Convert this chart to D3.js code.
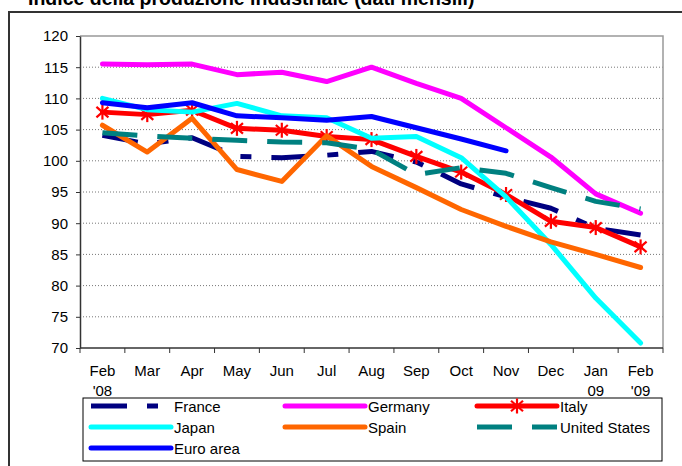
<!DOCTYPE html>
<html>
<head>
<meta charset="utf-8">
<script src="https://cdn.jsdelivr.net/npm/d3@7.9.0/dist/d3.min.js"></script>
<style>
  body { margin: 0; background: #fff; }
  svg text { font-family: "Liberation Sans", Arial, sans-serif; fill: #000; }
</style>
</head>
<body>
<div id="chart"></div>
<script>
// months on the x axis (second line of label after "|")
const months = ["Feb|'08", "Mar", "Apr", "May", "Jun", "Jul", "Aug", "Sep", "Oct", "Nov", "Dec", "Jan|09", "Feb|'09"];
const yTicks = [70, 75, 80, 85, 90, 95, 100, 105, 110, 115, 120];

const france  = [104.1, 102.7, 103.7, 100.7, 100.5, 100.9, 101.5, 99.8, 96.3, 94.2, 92.4, 89.2, 88.1];
const germany = [115.5, 115.4, 115.5, 113.8, 114.2, 112.7, 115.0, 112.4, 110.0, 105.3, 100.6, 94.7, 91.6];
const italy   = [107.8, 107.4, 108.1, 105.2, 104.9, 103.9, 103.4, 100.7, 98.2, 94.6, 90.3, 89.3, 86.2];
const japan   = [110.0, 108.2, 107.8, 109.2, 107.2, 106.9, 103.6, 103.9, 100.5, 94.2, 86.6, 78.0, 70.8];
const spain   = [105.7, 101.4, 106.8, 98.6, 96.7, 104.0, 99.1, 95.7, 92.2, 89.5, 87.0, 85.0, 82.9];
const usa     = [104.5, 104.0, 103.6, 103.3, 103.0, 102.9, 101.8, 97.8, 98.9, 98.0, 95.7, 93.5, 92.3];
const euroArea = [109.3, 108.5, 109.3, 107.2, 106.9, 106.5, 107.1, 105.3, 103.5, 101.6];

const series = [
    { name: "France", values: france, color: "#000080", dash: "36,20,11,20", cap: "butt" },
    { name: "Germany", values: germany, color: "#ff00ff", dash: null, cap: "round" },
    { name: "Italy", values: italy, color: "#ff0000", dash: null, cap: "round", marker: true },
    { name: "Japan", values: japan, color: "#00ffff", dash: null, cap: "round" },
    { name: "Spain", values: spain, color: "#ff6600", dash: null, cap: "round" },
    { name: "United States", values: usa, color: "#008080", dash: "35,20", cap: "butt" },
    { name: "Euro area", values: euroArea, color: "#0000ff", dash: null, cap: "round" }
];

const width = 682, height = 466;
const plot = { left: 80, right: 663, top: 36, bottom: 348 };

const svg = d3.select("#chart")
    .append("svg")
    .attr("width", width)
    .attr("height", height);

// outer frame and title (title is clipped by the top of the picture)
svg.append("rect")
    .attr("x", 9)
    .attr("y", 12)
    .attr("width", 700)
    .attr("height", 500)
    .attr("fill", "none")
    .attr("stroke", "#333")
    .attr("stroke-width", 2);

svg.append("text")
    .attr("x", 28)
    .attr("y", 5)
    .attr("font-size", 19.5)
    .attr("font-weight", "bold")
    .text("Indice della produzione industriale (dati mensili)");

const xBand = d3.scaleBand()
    .domain(months)
    .range([plot.left, plot.right]);
const x = (i) => xBand(months[i]) + xBand.bandwidth() / 2;

const y = d3.scaleLinear()
    .domain([70, 120])
    .range([plot.bottom, plot.top]);

// gridlines
svg.append("g")
    .selectAll("line")
    .data(yTicks.filter((d) => d > 70 && d < 120))
    .join("line")
    .attr("x1", plot.left)
    .attr("x2", plot.right)
    .attr("y1", (d) => y(d))
    .attr("y2", (d) => y(d))
    .attr("stroke", "#777")
    .attr("stroke-width", 1)
    .attr("stroke-dasharray", "1,2");

// plot border top + right
svg.append("path")
    .attr("d", `M${plot.left},${y(120)}H${plot.right}V${plot.bottom}`)
    .attr("fill", "none")
    .attr("stroke", "#999")
    .attr("stroke-width", 1.5);

// y axis
const yAxis = svg.append("g")
    .attr("transform", `translate(${plot.left},0)`)
    .call(d3.axisLeft(y).tickValues(yTicks).tickSize(4).tickSizeOuter(0).tickPadding(8));
yAxis.select(".domain").attr("stroke", "#333").attr("stroke-width", 1.5);
yAxis.selectAll(".tick line").attr("stroke", "#333");
yAxis.selectAll(".tick text")
    .attr("font-size", 15)
    .attr("font-family", "Liberation Sans, Arial, sans-serif");

// x axis
svg.append("line")
    .attr("x1", plot.left)
    .attr("x2", plot.right)
    .attr("y1", plot.bottom)
    .attr("y2", plot.bottom)
    .attr("stroke", "#333")
    .attr("stroke-width", 1.5);

const bounds = months.map((m) => xBand(m)).concat([plot.right]);
svg.append("g")
    .selectAll("line")
    .data(bounds)
    .join("line")
    .attr("x1", (d) => d)
    .attr("x2", (d) => d)
    .attr("y1", plot.bottom)
    .attr("y2", plot.bottom + 5)
    .attr("stroke", "#333")
    .attr("stroke-width", 1);

const xLabels = svg.append("g")
    .selectAll("text")
    .data(months)
    .join("text")
    .attr("text-anchor", "middle")
    .attr("font-size", 15)
    .attr("x", (d, i) => x(i))
    .attr("y", plot.bottom + 28);
xLabels.each(function (d) {
    const parts = d.split("|");
    const t = d3.select(this);
    t.append("tspan").attr("x", t.attr("x")).text(parts[0]);
    if (parts[1]) {
        t.append("tspan").attr("x", t.attr("x")).attr("dy", 20).text(parts[1]);
    }
});

// asterisk marker
function drawStar(g, cx, cy, color) {
    const r = 7.5;
    const s = g.append("g").attr("transform", `translate(${cx},${cy})`);
    [[0, -r, 0, r], [-r * 0.8, -r * 0.7, r * 0.8, r * 0.7], [-r * 0.8, r * 0.7, r * 0.8, -r * 0.7]].forEach((p) => {
        s.append("line")
            .attr("x1", p[0]).attr("y1", p[1])
            .attr("x2", p[2]).attr("y2", p[3])
            .attr("stroke", color)
            .attr("stroke-width", 2.2);
    });
}

const line = d3.line()
    .x((d, i) => x(i))
    .y((d) => y(d));

const linesG = svg.append("g");
series.forEach((s) => {
    linesG.append("path")
        .attr("d", line(s.values))
        .attr("fill", "none")
        .attr("stroke", s.color)
        .attr("stroke-width", 5)
        .attr("stroke-linejoin", "round")
        .attr("stroke-linecap", s.cap)
        .attr("stroke-dasharray", s.dash);
    if (s.marker) {
        s.values.forEach((v, i) => drawStar(linesG, x(i), y(v), s.color));
    }
});

// legend
const legend = svg.append("g");
legend.append("rect")
    .attr("x", 83)
    .attr("y", 398)
    .attr("width", 579)
    .attr("height", 63)
    .attr("fill", "#fff")
    .attr("stroke", "#000")
    .attr("stroke-width", 1);

const colX = [91, 285, 477];
const rowY = [406, 427, 448];
series.forEach((s, i) => {
    const lx = colX[i % 3];
    const ly = rowY[Math.floor(i / 3)];
    legend.append("line")
        .attr("x1", lx)
        .attr("x2", lx + 80)
        .attr("y1", ly)
        .attr("y2", ly)
        .attr("stroke", s.color)
        .attr("stroke-width", 5)
        .attr("stroke-linecap", s.cap)
        .attr("stroke-dasharray", s.dash);
    if (s.marker) drawStar(legend, lx + 40, ly, s.color);
    legend.append("text")
        .attr("x", lx + 83)
        .attr("y", ly + 6)
        .attr("font-size", 15)
        .text(s.name);
});
</script>
</body>
</html>
